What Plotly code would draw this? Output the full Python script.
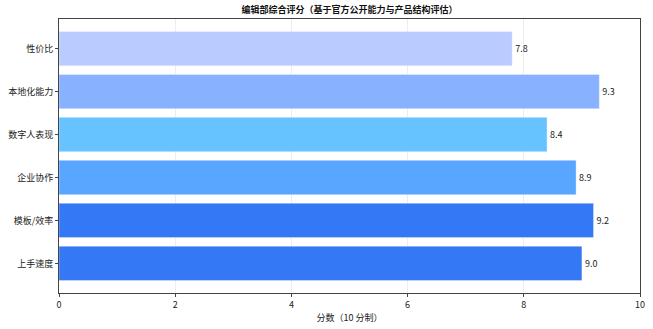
import plotly.graph_objects as go

categories = ["上手速度", "模板/效率", "企业协作", "数字人表现", "本地化能力", "性价比"]
scores = [9.0, 9.2, 8.9, 8.4, 9.3, 7.8]
colors = ["#3478f6", "#3478f6", "#58a6ff", "#66c3ff", "#88b2ff", "#b9cbff"]
x_ticks = [0, 2, 4, 6, 8, 10]

FONT = "Noto Sans CJK SC, DejaVu Sans, sans-serif"

fig = go.Figure()
fig.add_trace(go.Bar(
    y=list(range(len(categories))),
    x=scores,
    orientation="h",
    width=0.8,
    marker=dict(color=colors, line=dict(color="rgba(255,255,255,0.35)", width=1)),
    text=[f"{v:.1f}" for v in scores],
    textposition="outside",
    textfont=dict(size=9, color="#222", family=FONT),
    cliponaxis=False,
    hoverinfo="skip",
))

fig.update_layout(
    width=653, height=329,
    margin=dict(l=59, r=13, t=19, b=36),
    paper_bgcolor="white", plot_bgcolor="white",
    font=dict(family=FONT, size=9, color="#222"),
    title=dict(text="<b>编辑部综合评分（基于官方公开能力与产品结构评估）</b>",
               x=(59 + 640) / 2 / 653, xanchor="center", y=1 - 10 / 329, yanchor="middle",
               font=dict(size=9, color="#111", family=FONT)),
    showlegend=False,
    bargap=0.2,
)
fig.update_xaxes(
    range=[0, 10], tickvals=x_ticks, ticktext=[str(t) for t in x_ticks],
    showgrid=True, gridcolor="rgba(0,0,0,0.07)", gridwidth=1,
    showline=True, linecolor="#444", linewidth=1, mirror=True,
    ticks="outside", ticklen=3, tickcolor="#444",
    zeroline=False, automargin=False,
    title=dict(text="分数（10 分制）", font=dict(size=9, family=FONT), standoff=4),
    tickfont=dict(size=9, family=FONT),
)
fig.update_yaxes(
    range=[-0.69, 5.69],
    tickvals=list(range(len(categories))), ticktext=categories,
    showgrid=False,
    showline=True, linecolor="#444", linewidth=1, mirror=True,
    ticks="outside", ticklen=3, tickcolor="#444",
    zeroline=False, automargin=False,
    tickfont=dict(size=9, family=FONT),
)

fig.write_html("out.html")
